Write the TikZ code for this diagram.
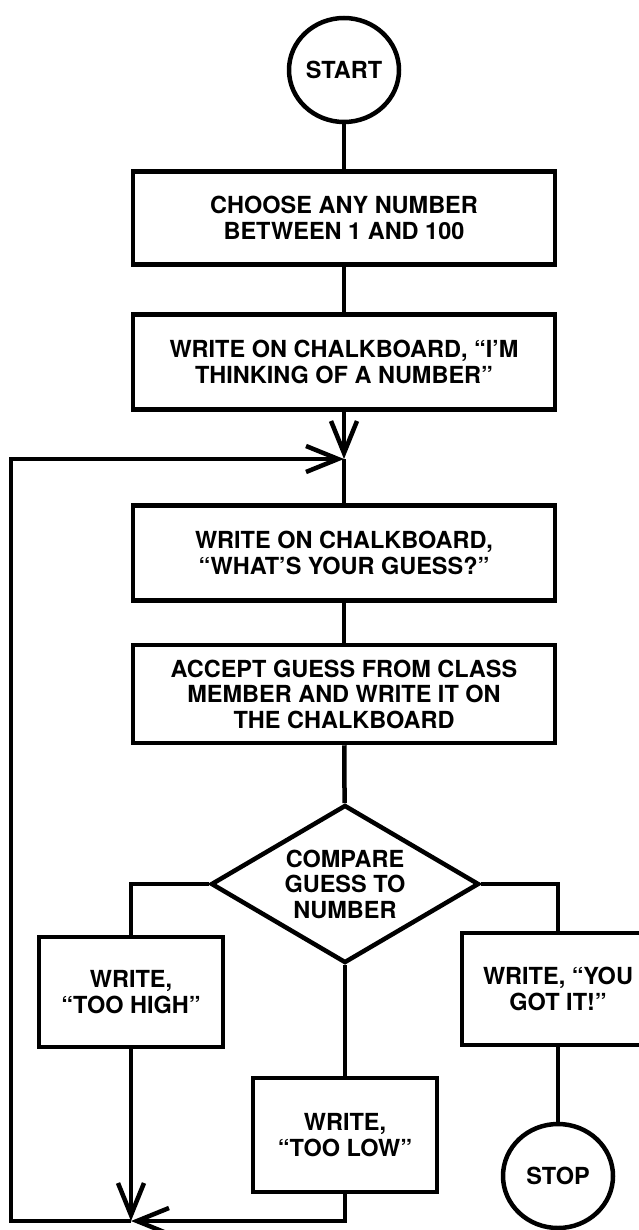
\documentclass[tikz,border=0pt]{standalone}
\usepackage{fontspec}
\setmainfont{TeX Gyre Heros}
\usetikzlibrary{arrows.meta,shapes.geometric}
\begin{document}
\begin{tikzpicture}[x=1pt,y=-1pt,
  every node/.style={font=\fontsize{23.5}{25.5}\selectfont\bfseries, align=center, line width=4.5pt},
  proc/.style={draw, rectangle, inner sep=0pt},
  term/.style={draw, ellipse, minimum width=110pt, minimum height=104pt, inner sep=0pt},
  dec/.style={draw, diamond, minimum width=268pt, minimum height=158pt, inner sep=0pt, aspect=1.7},
  conn/.style={line width=4.5pt},
  arr/.style={conn, -{Straight Barb[length=32pt,width=26pt]}}
]
\clip (0,0) rectangle (639,1230);
\fill[white] (0,0) rectangle (639,1230);

\node[term] (start) at (344,70) {START};
\node[proc, minimum width=422pt, minimum height=93pt] (b1) at (344,218) {CHOOSE ANY NUMBER\\BETWEEN 1 AND 100};
\node[proc, minimum width=422pt, minimum height=95pt] (b2) at (344,362) {WRITE ON CHALKBOARD, “I’M\\THINKING OF A NUMBER”};
\node[proc, minimum width=422pt, minimum height=95pt] (b3) at (344,553) {WRITE ON CHALKBOARD,\\“WHAT’S YOUR GUESS?”};
\node[proc, minimum width=422pt, minimum height=98pt] (b4) at (344,694) {ACCEPT GUESS FROM CLASS\\MEMBER AND WRITE IT ON\\THE CHALKBOARD};
\node[dec] (cmp) at (345,884) {COMPARE\\GUESS TO\\NUMBER};
\node[proc, minimum width=184pt, minimum height=110pt] (high) at (131,992) {WRITE,\\“TOO HIGH”};
\node[proc, minimum width=192pt, minimum height=112pt] (got) at (558,989) {WRITE, “YOU\\GOT IT!”};
\node[proc, minimum width=184pt, minimum height=114pt] (low) at (345,1135) {WRITE,\\“TOO LOW”};
\node[term] (stop) at (558,1176) {STOP};

\coordinate (join) at (344,459);
\coordinate (tl) at (11,459);
\coordinate (bl) at (11,1221);
\coordinate (jb) at (131,1221);

\draw[conn] (start) -- (b1);
\draw[conn] (b1) -- (b2);
\draw[arr] (b2) -- (join);
\draw[conn] (join) -- (b3);
\draw[conn] (b3) -- (b4);
\draw[conn] (b4) -- (cmp);
\draw[conn] (cmp.west) -| (high.north);
\draw[conn] (cmp.east) -| (got.north);
\draw[conn] (cmp.south) -- (low.north);
\draw[conn] (got) -- (stop);
\draw[arr] (high.south) -- (jb);
\draw[arr] (low.south) |- (jb);
\draw[arr] (jb) -- (bl) -- (tl) -- (join);
\end{tikzpicture}
\end{document}
